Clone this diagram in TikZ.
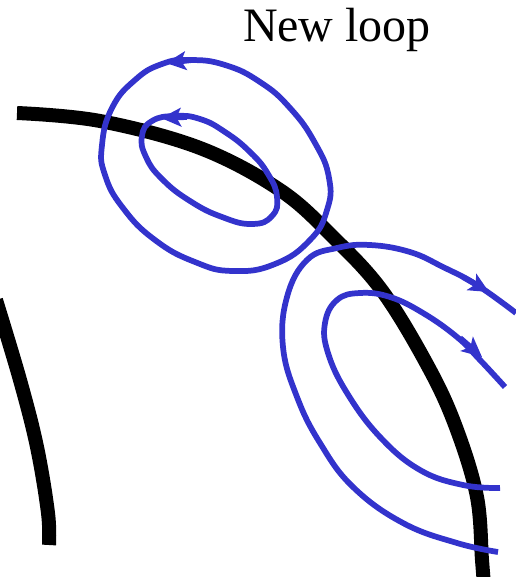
\documentclass[tikz,border=0pt]{standalone}
\usepackage{fontspec}
\setmainfont{Liberation Serif}
\usetikzlibrary{arrows.meta}
\definecolor{loopblue}{RGB}{51,51,204}
\begin{document}
\begin{tikzpicture}[x=0.75pt,y=-0.75pt,
  wire/.style={line width=10.5pt, black},
  fieldline/.style={line width=4.3pt, loopblue},
  tipseg/.style={line width=4.3pt, loopblue, -{Stealth[length=15pt,width=14pt,inset=3.5pt]}}]
\useasboundingbox (0,0) rectangle (516,577);

\node[font=\fontsize{36}{40}\selectfont, inner sep=0pt] (title) at (337,30) {New loop};

% black wires
\draw[wire] plot[smooth, tension=0.6] coordinates {(17,113) (100,121) (200,148) (280,190) (333,237) (383,292) (430,370) (457,430) (477,497) (482,560) (484,585)};
\draw[wire] plot[smooth, tension=0.6] coordinates {(-4,300) (20,380) (37,447) (48,513) (49,545)};

% upper loops
\draw[fieldline] plot[smooth cycle, tension=0.8] coordinates {(190,60) (225,65) (260,82) (290,108) (315,143) (329,178) (327,210) (310,240) (275,264) (233,271) (195,262) (155,240) (123,208) (105,175) (102,145) (112,108) (135,80) (162,64)};
\draw[fieldline] plot[smooth cycle, tension=0.8] coordinates {(175,116) (200,119) (225,132) (250,152) (268,174) (277,197) (272,216) (252,224) (222,217) (190,201) (162,179) (146,157) (142,136) (152,121)};
\coordinate (ua0) at (192,60);
\coordinate (ua1) at (166,63);
\coordinate (ub0) at (187,117);
\coordinate (ub1) at (161,118);
\draw[tipseg] (ua0) -- (ua1);
\draw[tipseg] (ub0) -- (ub1);

% lower loops
\draw[fieldline] plot[smooth, tension=0.7] coordinates {(498,552) (457,543) (403,523) (353,487) (320,443) (297,397) (283,347) (287,297) (307,260) (337,248) (370,245) (410,252) (443,267) (477,285) (516,313)};
\draw[fieldline] plot[smooth, tension=0.7] coordinates {(500,488) (463,485) (420,470) (380,437) (347,393) (328,353) (325,323) (337,300) (360,293) (390,297) (423,313) (457,337) (480,360) (505,387)};
\coordinate (la0) at (463,277);
\coordinate (la1) at (489,292);
\coordinate (lb0) at (460,338);
\coordinate (lb1) at (482,357);
\draw[tipseg] (la0) -- (la1);
\draw[tipseg] (lb0) -- (lb1);
\end{tikzpicture}
\end{document}
